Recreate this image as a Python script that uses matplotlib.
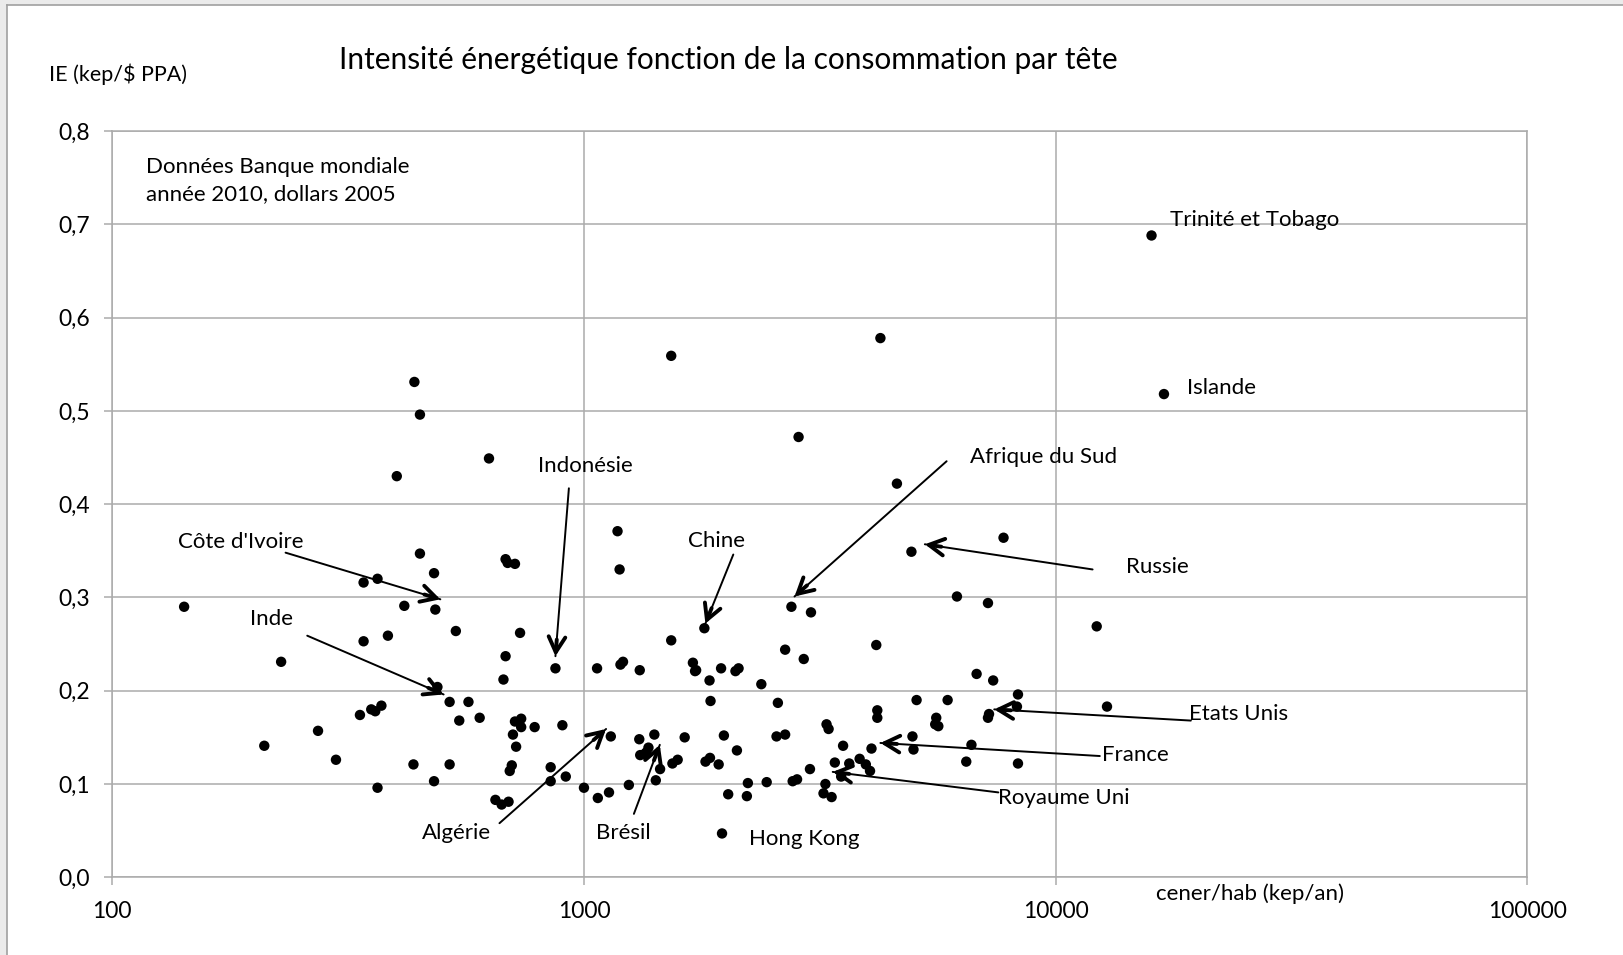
import numpy as np
import matplotlib
matplotlib.use("Agg")
import matplotlib.pyplot as plt
from matplotlib.patches import Rectangle
from matplotlib.ticker import FixedLocator, FuncFormatter, NullLocator

plt.rcParams['font.family'] = ['Lato', 'DejaVu Sans']

# consumption per head (kep/an)
cener = [142, 210, 228, 273, 298, 335, 341, 341, 354, 361, 365, 365, 372, 384,
         401, 416, 435, 437, 449, 449, 481, 481, 484, 489, 519, 519, 535, 544,
         569, 601, 629, 649, 669, 675, 682, 682, 689, 692, 696, 703, 707, 714,
         714, 718, 732, 736, 736, 786, 850, 850, 870, 900, 915, 1000, 1066, 1070,
         1130, 1140, 1178, 1190, 1195, 1210, 1245, 1310, 1313, 1316, 1343, 1356,
         1370, 1410, 1420, 1450, 1531, 1540, 1531, 1580, 1635, 1702, 1720, 1729,
         1800, 1810, 1850, 1846, 1855, 1930, 1953, 1962, 1980, 2022, 2095, 2127,
         2110, 2215, 2226, 2377, 2440, 2560, 2577, 2670, 2670, 2753, 2770, 2830,
         2851, 2924, 3014, 3029, 3250, 3268, 3301, 3220, 3350, 3403, 3510, 3543,
         3651, 3841, 3959, 4041, 4070, 4187, 4187, 4166, 4251, 4608, 4946, 4971,
         4996, 5072, 5555, 5583, 5640, 5902, 6177, 6464, 6630, 6799, 7187, 7187,
         7224, 7372, 7754, 8279, 8321, 8321, 12220, 12850, 15970, 16970]
# energy intensity (kep/$ PPA)
ie = [0.290, 0.141, 0.231, 0.157, 0.126, 0.174, 0.316, 0.253, 0.180, 0.178,
      0.320, 0.096, 0.184, 0.259, 0.430, 0.291, 0.121, 0.531, 0.496, 0.347,
      0.103, 0.326, 0.287, 0.204, 0.121, 0.188, 0.264, 0.168, 0.188, 0.171,
      0.449, 0.083, 0.078, 0.212, 0.237, 0.341, 0.337, 0.081, 0.114, 0.120,
      0.153, 0.336, 0.167, 0.140, 0.262, 0.170, 0.161, 0.161, 0.118, 0.103,
      0.224, 0.163, 0.108, 0.096, 0.224, 0.085, 0.091, 0.151, 0.371, 0.330,
      0.228, 0.231, 0.099, 0.148, 0.222, 0.131, 0.132, 0.134, 0.139, 0.153,
      0.104, 0.116, 0.559, 0.122, 0.254, 0.126, 0.150, 0.230, 0.221, 0.222,
      0.267, 0.124, 0.128, 0.211, 0.189, 0.121, 0.224, 0.047, 0.152, 0.089,
      0.221, 0.224, 0.136, 0.087, 0.101, 0.207, 0.102, 0.151, 0.187, 0.153,
      0.244, 0.290, 0.103, 0.105, 0.472, 0.234, 0.116, 0.284, 0.100, 0.164,
      0.159, 0.090, 0.086, 0.123, 0.108, 0.141, 0.122, 0.127, 0.121, 0.114,
      0.138, 0.179, 0.171, 0.249, 0.578, 0.422, 0.349, 0.151, 0.137, 0.190,
      0.164, 0.171, 0.162, 0.190, 0.301, 0.124, 0.142, 0.218, 0.294, 0.171,
      0.175, 0.211, 0.364, 0.183, 0.196, 0.122, 0.269, 0.183, 0.688, 0.518]

x_ticks = [100, 1000, 10000, 100000]
y_ticks = [0.0, 0.1, 0.2, 0.3, 0.4, 0.5, 0.6, 0.7, 0.8]

# labels: (text, text_x, text_y, ha, tail_x, tail_y, head_x, head_y)  -- None = no arrow
labels = [
    ("Trinité et Tobago", 17500, 0.708, 'left', None, None, None, None),
    ("Islande", 18970, 0.528, 'left', None, None, None, None),
    ("Afrique du Sud", 6597, 0.454, 'left', 5873, 0.446, 2795, 0.301),
    ("Indonésie", 1007, 0.444, 'center', 929, 0.417, 870, 0.237),
    ("Côte d'Ivoire", 187, 0.362, 'center', 233, 0.348, 496, 0.298),
    ("Chine", 1912, 0.364, 'center', 2073, 0.346, 1809, 0.272),
    ("Russie", 14075, 0.336, 'left', 11977, 0.330, 5281, 0.357),
    ("Inde", 218, 0.280, 'center', 259, 0.259, 504, 0.196),
    ("Etats Unis", 19160, 0.178, 'left', 19350, 0.168, 7410, 0.180),
    ("France", 12530, 0.134, 'left', 12407, 0.130, 4251, 0.144),
    ("Royaume Uni", 7560, 0.088, 'left', 7560, 0.091, 3368, 0.113),
    ("Algérie", 538, 0.050, 'center', 662, 0.058, 1114, 0.159),
    ("Brésil", 1214, 0.050, 'center', 1276, 0.068, 1448, 0.142),
    ("Hong Kong", 2238, 0.044, 'left', None, None, None, None),
]

W, H = 1623, 955
fig = plt.figure(figsize=(W / 100, H / 100), dpi=100)
fig.patch.set_facecolor('white')

# screenshot frame (light grey band on the left and top)
fig.add_artist(Rectangle((0, 0), 7 / W, 1, transform=fig.transFigure,
                         facecolor='#ebebeb', edgecolor='none', zorder=0))
fig.add_artist(Rectangle((0, 1 - 5 / H), 1, 5 / H, transform=fig.transFigure,
                         facecolor='#ebebeb', edgecolor='none', zorder=0))
fig.add_artist(plt.Line2D([7 / W, 7 / W], [0, 1 - 5 / H], transform=fig.transFigure,
                          color='#a0a0a0', lw=1.2))
fig.add_artist(plt.Line2D([7 / W, 1], [1 - 5 / H, 1 - 5 / H], transform=fig.transFigure,
                          color='#a0a0a0', lw=1.2))

left, right = 112.3 / W, 1527.3 / W
bottom, top = (H - 877.3) / H, (H - 131) / H
ax = fig.add_axes([left, bottom, right - left, top - bottom])
ax.set_xscale('log')
ax.set_xlim(100, 100000)
ax.set_ylim(0, 0.8)

grid_c = '#ababab'
ax.xaxis.set_major_locator(FixedLocator(x_ticks))
ax.xaxis.set_minor_locator(NullLocator())
ax.yaxis.set_major_locator(FixedLocator(y_ticks))
ax.xaxis.set_major_formatter(FuncFormatter(lambda v, p: f"{int(round(v))}"))
ax.yaxis.set_major_formatter(FuncFormatter(lambda v, p: f"{v:.1f}".replace('.', ',')))
ax.grid(True, color=grid_c, lw=1.1)
ax.set_axisbelow(True)
for s in ax.spines.values():
    s.set_color(grid_c)
    s.set_linewidth(1.1)
ax.tick_params(axis='both', direction='out', length=6, width=1.1, color=grid_c,
               labelsize=16.5, labelcolor='black')
ax.tick_params(axis='x', pad=11)
ax.tick_params(axis='y', pad=10)

ax.scatter(cener, ie, s=56, color='black', edgecolors='none', zorder=3)

fig.canvas.draw()

for (txt, tx, ty, ha, ax0, ay0, hx, hy) in labels:
    ax.text(tx, ty - 0.003, txt, ha=ha, va='center', fontsize=16, zorder=4)
    if ax0 is None:
        continue
    # shaft
    ax.annotate('', xy=(hx, hy), xytext=(ax0, ay0),
                arrowprops=dict(arrowstyle='-', color='black', lw=1.4,
                                shrinkA=0, shrinkB=0), zorder=4)
    # bold open arrow head
    p_h = ax.transData.transform((hx, hy))
    p_t = ax.transData.transform((ax0, ay0))
    d = p_t - p_h
    d = d / np.hypot(*d)
    off = d * 12
    ax.annotate('', xy=(hx, hy), xytext=(off[0], off[1]), textcoords='offset points',
                arrowprops=dict(arrowstyle='->,head_length=0.55,head_width=0.3',
                                color='black', lw=2.8, shrinkA=0, shrinkB=0,
                                mutation_scale=20), zorder=4)

ax.text(118, 0.761, "Données Banque mondiale", ha='left', va='center', fontsize=16)
ax.text(118, 0.732, "année 2010, dollars 2005", ha='left', va='center', fontsize=16)

fig.text(728 / W, (H - 69) / H, "Intensité énergétique fonction de la consommation par tête",
         ha='center', va='baseline', fontsize=21.5)
fig.text(49 / W, (H - 74) / H, "IE (kep/$ PPA)", ha='left', va='center', fontsize=15.5)
fig.text(1156 / W, (H - 894) / H, "cener/hab (kep/an)", ha='left', va='center', fontsize=16)

fig.savefig('out.png', dpi=100)
